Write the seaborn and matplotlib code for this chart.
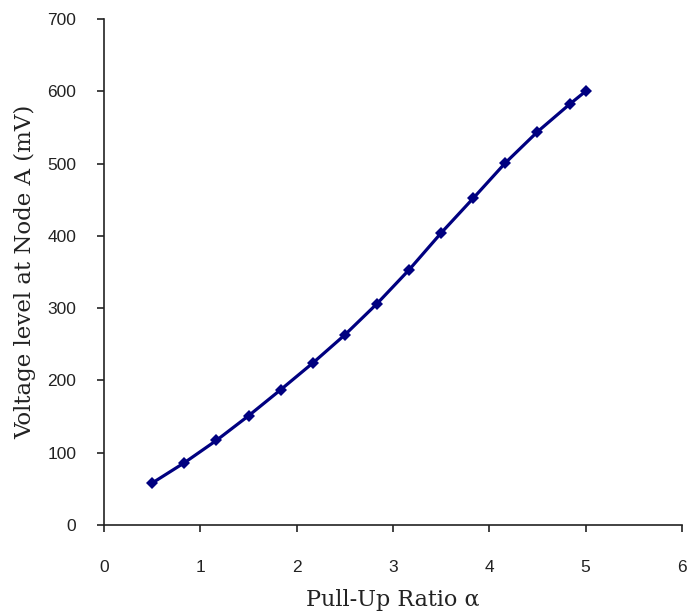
import matplotlib
matplotlib.use("Agg")
import matplotlib.pyplot as plt
import seaborn as sns
import pandas as pd

ratio = [0.5, 0.833, 1.167, 1.5, 1.833, 2.167, 2.5, 2.833, 3.167, 3.5, 3.833, 4.167, 4.5, 4.833, 5.0]
voltage = [58, 86, 117, 151, 187, 224, 263, 306, 353, 404, 452, 501, 544, 582, 600]
x_ticks = [0, 1, 2, 3, 4, 5, 6]
y_ticks = [0, 100, 200, 300, 400, 500, 600, 700]

df = pd.DataFrame({"ratio": ratio, "voltage": voltage})

sns.set_style("ticks")
plt.rcParams['font.family'] = ['Liberation Sans', 'DejaVu Sans']

fig = plt.figure(figsize=(6.87, 6.12), dpi=100)
ax = fig.add_axes([0.1514, 0.1422, 0.8413, 0.8268])
sns.lineplot(data=df, x="ratio", y="voltage", ax=ax, color="#000080", linewidth=2.3,
             marker="D", markersize=6.5, markeredgewidth=0)

ax.set_xlim(0, 6)
ax.set_ylim(0, 700)
ax.set_xticks(x_ticks)
ax.set_yticks(y_ticks)
ax.tick_params(axis="x", length=5, width=1.2, pad=20, labelsize=12.5, colors="#222222")
ax.tick_params(axis="y", length=5, width=1.2, pad=15, labelsize=12.5, colors="#222222")
for s in ["top", "right"]:
    ax.spines[s].set_visible(False)
for s in ["left", "bottom"]:
    ax.spines[s].set_linewidth(1.2)
    ax.spines[s].set_color("#222222")

ax.set_xlabel("Pull-Up Ratio α", family=["DejaVu Serif"], fontsize=16, labelpad=10, color="#222222")
ax.set_ylabel("Voltage level at Node A (mV)", family=["DejaVu Serif"], fontsize=16.5, labelpad=8, color="#222222")

fig.savefig("out.png", dpi=100)
